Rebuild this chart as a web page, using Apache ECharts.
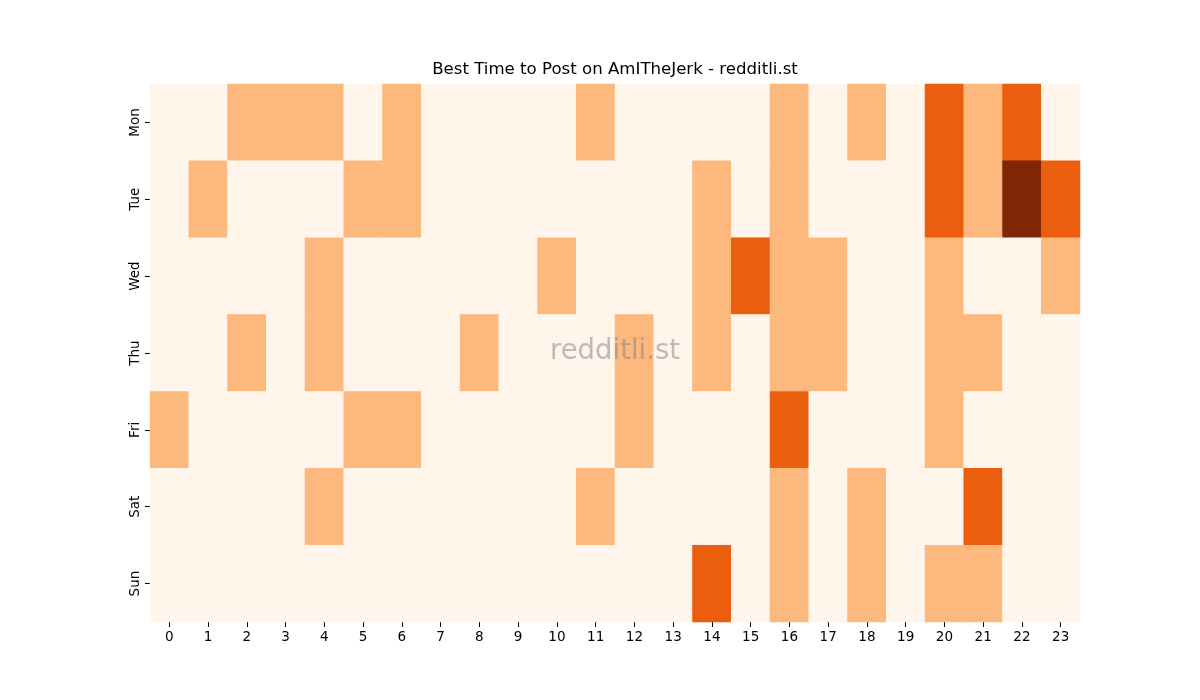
<!doctype html>
<html>
<head>
<meta charset="utf-8">
<title>Best Time to Post</title>
<style>
html, body { margin: 0; padding: 0; background: #fff; }
#main { width: 1200px; height: 700px; }
</style>
</head>
<body>
<div id="main"></div>
<script src="https://cdn.jsdelivr.net/npm/echarts@6/dist/echarts.min.js"></script>
<script>
var hours = ['0','1','2','3','4','5','6','7','8','9','10','11','12','13','14','15','16','17','18','19','20','21','22','23'];
var days = ['Mon','Tue','Wed','Thu','Fri','Sat','Sun'];

// activity level per hour, one array per day
var mon = [0,0,1,1,1,0,1,0,0,0,0,1,0,0,0,0,1,0,1,0,2,1,2,0];
var tue = [0,1,0,0,0,1,1,0,0,0,0,0,0,0,1,0,1,0,0,0,2,1,3,2];
var wed = [0,0,0,0,1,0,0,0,0,0,1,0,0,0,1,2,1,1,0,0,1,0,0,1];
var thu = [0,0,1,0,1,0,0,0,1,0,0,0,1,0,1,0,1,1,0,0,1,1,0,0];
var fri = [1,0,0,0,0,1,1,0,0,0,0,0,1,0,0,0,2,0,0,0,1,0,0,0];
var sat = [0,0,0,0,1,0,0,0,0,0,0,1,0,0,0,0,1,0,1,0,0,2,0,0];
var sun = [0,0,0,0,0,0,0,0,0,0,0,0,0,0,2,0,1,0,1,0,1,1,0,0];

var rows = [mon, tue, wed, thu, fri, sat, sun];
var data = [];
rows.forEach(function (row, d) {
  row.forEach(function (v, h) {
    data.push([h, d, v]);
  });
});

var font = 'DejaVu Sans';
var myChart = echarts.init(document.getElementById('main'));
var option = {
  animation: false,
  backgroundColor: '#ffffff',
  grid: { left: 150, top: 84, width: 930, height: 538 },
  xAxis: {
    type: 'category',
    data: hours,
    axisLine: { show: false },
    axisTick: { show: true, alignWithLabel: true, length: 5, lineStyle: { color: '#000' } },
    axisLabel: { fontFamily: font, fontSize: 13.5, color: '#000', margin: 8, interval: 0 },
    splitLine: { show: false }
  },
  yAxis: {
    type: 'category',
    data: days,
    inverse: true,
    axisLine: { show: false },
    axisTick: { show: true, alignWithLabel: true, length: 5, lineStyle: { color: '#000' } },
    axisLabel: { fontFamily: font, fontSize: 13.5, color: '#000', rotate: 90, margin: 8 },
    splitLine: { show: false }
  },
  visualMap: {
    show: false,
    type: 'piecewise',
    dimension: 2,
    pieces: [
      { value: 0, color: '#fff5eb' },
      { value: 1, color: '#fdb97d' },
      { value: 2, color: '#ea5e0d' },
      { value: 3, color: '#7f2704' }
    ]
  },
  series: [{
    type: 'heatmap',
    data: data,
    itemStyle: { borderWidth: 0 },
    emphasis: { disabled: true }
  }],
  graphic: [{
    type: 'text',
    x: 615,
    y: 70,
    style: {
      text: 'Best Time to Post on AmITheJerk - redditli.st',
      fontFamily: font,
      fontSize: 16.6,
      fill: '#000',
      textAlign: 'center',
      textVerticalAlign: 'middle'
    }
  }, {
    type: 'text',
    x: 615,
    y: 352,
    z: 100,
    style: {
      text: 'redditli.st',
      fontFamily: font,
      fontSize: 27.5,
      fill: 'rgba(128,128,128,0.5)',
      textAlign: 'center',
      textVerticalAlign: 'middle'
    }
  }]
};
myChart.setOption(option);
</script>
</body>
</html>
